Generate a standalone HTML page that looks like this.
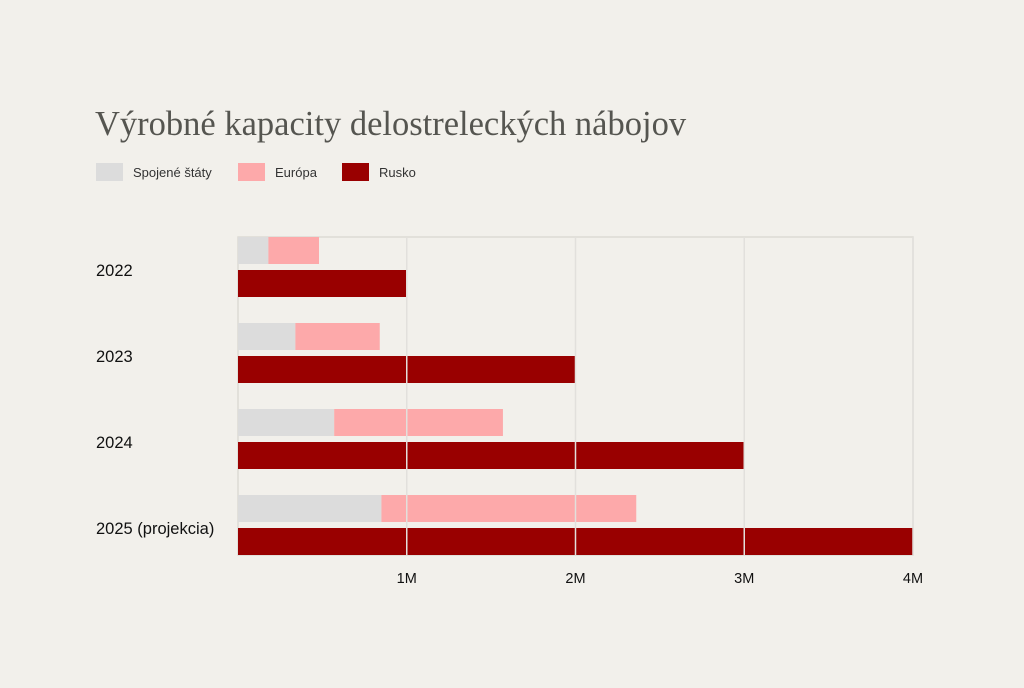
<!DOCTYPE html>
<html><head><meta charset="utf-8"><style>
html,body{margin:0;padding:0;background:#f2f0eb;}
body{width:1024px;height:683px;overflow:hidden;position:relative;font-family:"Liberation Sans",sans-serif;}
</style></head><body>
<svg width="1024" height="683">
<text x="95" y="135" font-family="Liberation Serif,serif" font-size="34.5" fill="#555550">Výrobné kapacity delostreleckých nábojov</text>
<g>
<rect x="96" y="163" width="27" height="18" fill="#dcdcdc"/>
<text x="133" y="177" font-size="13" fill="#333">Spojené štáty</text>
<rect x="238" y="163" width="27" height="18" fill="#fda9aa"/>
<text x="275" y="177" font-size="13" fill="#333">Európa</text>
<rect x="342" y="163" width="27" height="18" fill="#990000"/>
<text x="379" y="177" font-size="13" fill="#333">Rusko</text>
</g>
<g id="plot"></g>
</svg>
<script>
const categories=["2022","2023","2024","2025 (projekcia)"];
const usValues=[0.18,0.34,0.57,0.85];
const europeValues=[0.30,0.50,1.00,1.51];
const russiaValues=[1,2,3,4];
const tickValues=[1,2,3,4];
const tickLabels=["1M","2M","3M","4M"];
const NS="http://www.w3.org/2000/svg";
const plot=document.getElementById('plot');
const x0=238,pxPerM=168.75,top0=237,groupH=86;
const xs=v=>x0+v*pxPerM;
function mk(tag,attrs){const e=document.createElementNS(NS,tag);for(const k in attrs)e.setAttribute(k,attrs[k]);plot.appendChild(e);return e;}
const fr=mk('rect',{x:x0,y:top0,width:xs(4)-x0,height:555-top0,fill:'none',stroke:'#dcdad5','stroke-width':1.5});


categories.forEach((c,i)=>{
 const y=top0+i*groupH;
 const r1=mk('rect',{x:x0,y:y,width:xs(usValues[i])-x0,height:27,fill:'#dcdcdc'});
 
 
 const r2=mk('rect',{x:xs(usValues[i]),y:y,width:xs(europeValues[i])-x0,height:27,fill:'#fda9aa'});
 
 
 const r3=mk('rect',{x:x0,y:y+33,width:xs(russiaValues[i])-x0,height:27,fill:'#990000'});
 
 
 const t=mk('text',{x:96,y:y+39,'font-size':16.5,fill:'#111'});t.textContent=c;
 
 
});
tickValues.forEach((v,i)=>{
 const l=mk('line',{x1:xs(v),x2:xs(v),y1:top0,y2:555,stroke:'#e2e0dc','stroke-width':1.5});
 
 
 const t=mk('text',{x:xs(v),y:583,'font-size':14.5,fill:'#111','text-anchor':'middle'});t.textContent=tickLabels[i];
 
 
});
</script>
</body></html>
